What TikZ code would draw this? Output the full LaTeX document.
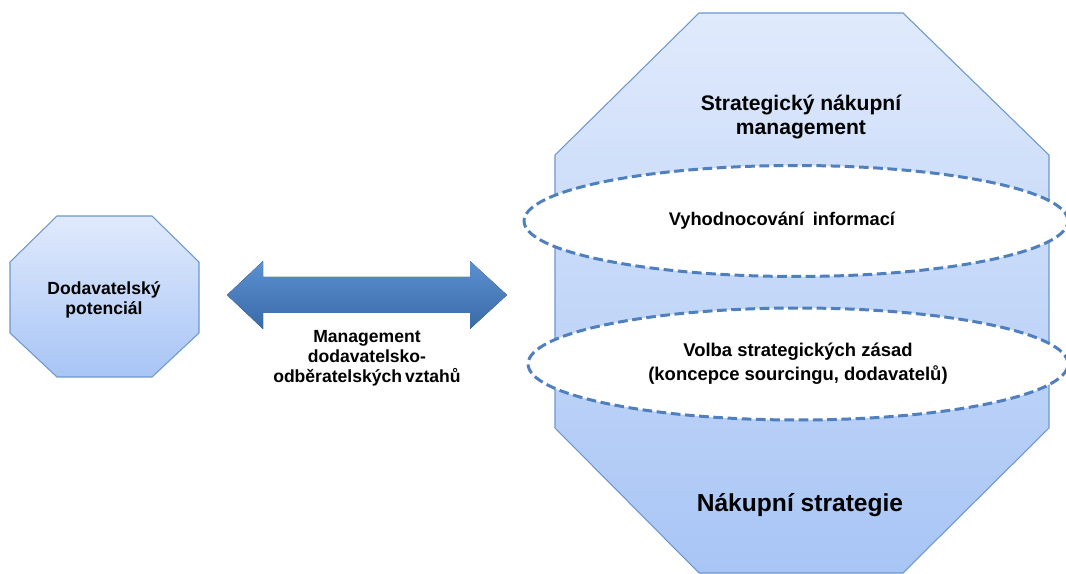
\documentclass[tikz,border=0pt]{standalone}
\usepackage{fontspec}
\setmainfont{Liberation Sans}
\usetikzlibrary{positioning,shapes.geometric}

\definecolor{edgeblue}{HTML}{6E97CB}
\definecolor{dashblue}{HTML}{4F7FBD}
\definecolor{filltop}{HTML}{E0EAFC}
\definecolor{fillbottom}{HTML}{A8C5F5}
\definecolor{arrowtop}{HTML}{5C90D0}
\definecolor{arrowbottom}{HTML}{3A6AA8}

\tikzset{
  octa/.style={draw=edgeblue, line width=0.6pt, top color=filltop, bottom color=fillbottom},
  ring/.style={ellipse, draw=dashblue, line width=1.7pt, dash pattern=on 5.5pt off 2.6pt, fill=white, inner sep=0pt},
  txt/.style={font=\bfseries\fontsize{10}{11.5}\selectfont, align=center, text=black},
  arrowfill/.style={top color=arrowtop, bottom color=arrowbottom}
}

\begin{document}
\begin{tikzpicture}[x=0.02cm, y=-0.02cm]
                \useasboundingbox (0,0) rectangle (1066,574);

                \clip (0,0) rectangle (1066,574);

                \draw[octa] (57,216) -- (152,216) -- (199,262) -- (199,333) -- (152,377) -- (57,377) -- (10,333) -- (10,262) -- cycle;

                \node[txt] (potencial) at (104,300) {Dodavatelský\\potenciál};

                \draw[octa] (699,13) -- (903,13) -- (1049,155) -- (1049,428) -- (903,573) -- (699,573) -- (555,428) -- (555,155) -- cycle;

                \node[txt, font=\bfseries\fontsize{12}{13.6}\selectfont] (management) at (801,117) {Strategický nákupní\\management};

                \node[ring, minimum width=10.88cm, minimum height=2.22cm, txt, font=\bfseries\fontsize{10.4}{12}\selectfont] (evaluate) at (796,221) {Vyhodnocování\hspace{2pt} informací\hspace{16pt}};

                \node[ring, minimum width=10.8cm, minimum height=2.24cm, txt, font=\bfseries\fontsize{10.5}{13.6}\selectfont] (choice) at (798,364) {Volba strategických zásad\\(koncepce sourcingu, dodavatelů)};

                \node[txt, font=\bfseries\fontsize{14}{16}\selectfont] (strategy) at (800,505) {Nákupní strategie};

                \coordinate (arrowL) at (227,295);

                \coordinate (arrowR) at (507,295);

                \fill[arrowfill] (arrowL) -- ([shift={(36,-34)}]arrowL) -- ([shift={(36,-18)}]arrowL) -- ([shift={(-37,-18)}]arrowR) -- ([shift={(-37,-34)}]arrowR) -- (arrowR) -- ([shift={(-37,34)}]arrowR) -- ([shift={(-37,18)}]arrowR) -- ([shift={(36,18)}]arrowL) -- ([shift={(36,34)}]arrowL) -- cycle;

                \node[txt] (relation) at (367,358) {Management\\dodavatelsko-\\odběratelských\,vztahů};
            \end{tikzpicture}
\end{document}
